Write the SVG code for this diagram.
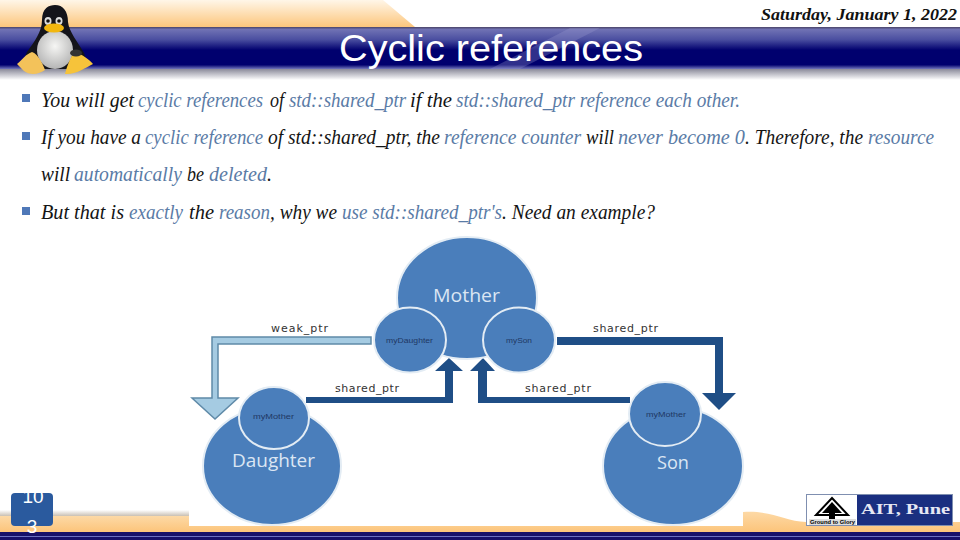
<svg xmlns="http://www.w3.org/2000/svg" width="960" height="540" viewBox="0 0 960 540">
<style>
.b{font-family:"Liberation Serif",serif;font-style:italic;font-size:20px;fill:#141414}
.h{fill:#5a7ba6}
.lab{font-family:"DejaVu Sans",sans-serif;font-size:11px;fill:#333}
.big{font-family:"Open Sans","Liberation Sans",sans-serif;font-size:18px;fill:#dbe6f3}
.sm{font-family:"Liberation Sans",sans-serif;font-size:8px;fill:#1f3864}
.c{fill:#4a7ebb;stroke:#e3ecf4;stroke-width:2}
.dk{fill:#1f4e86}
.bul{fill:#4f78b8}
</style>
<defs>
<linearGradient id="org" x1="0" y1="0" x2="0" y2="1"><stop offset="0" stop-color="#fff6e8"/><stop offset="1" stop-color="#fcc67c"/></linearGradient>
<linearGradient id="bar" x1="0" y1="0" x2="0" y2="1"><stop offset="0" stop-color="#4a4468"/><stop offset=".06" stop-color="#7072b4"/><stop offset=".3" stop-color="#4a4ea0"/><stop offset=".55" stop-color="#00006e"/><stop offset=".9" stop-color="#00006e"/><stop offset="1" stop-color="#7478bc"/></linearGradient>
<linearGradient id="shd" x1="0" y1="0" x2="0" y2="1"><stop offset="0" stop-color="#8a8a9a"/><stop offset="1" stop-color="#fff"/></linearGradient>
<linearGradient id="shd2" x1="0" y1="0" x2="0" y2="1"><stop offset="0" stop-color="#fff"/><stop offset="1" stop-color="#c9c0b4"/></linearGradient>
<linearGradient id="org2" x1="0" y1="0" x2="0" y2="1"><stop offset="0" stop-color="#fdd9a6"/><stop offset="1" stop-color="#fcc47a"/></linearGradient>
<radialGradient id="belly" cx=".5" cy=".4" r=".6"><stop offset="0" stop-color="#f6f6f4"/><stop offset="1" stop-color="#b5b5b5"/></radialGradient>
</defs>
<rect width="960" height="540" fill="#fff"/>
<g id="banner">
<polygon points="0,0 383,0 415,27 0,27" fill="url(#org)"/>
<rect x="0" y="27" width="960" height="42" fill="url(#bar)"/>
<polygon points="490,69 520,69 600,28 570,28" fill="#9a9ad0" opacity=".3"/>
<rect x="0" y="69" width="960" height="11" fill="url(#shd)"/>
</g>
<g id="footer">
<rect x="0" y="510" width="189" height="6" fill="url(#shd2)"/>
<rect x="0" y="516" width="744" height="16" fill="url(#org2)"/>
<path d="M743 512C770 510 785 521 806 522H960V532H743Z" fill="url(#org2)"/>
<rect x="0" y="532" width="960" height="8" fill="#16106a"/>
<rect x="0" y="536" width="960" height="1" fill="#6a70c0"/>
</g>
<g id="penguin">
<path d="M42 20C42 8 49 5 55 5C63 5 68 11 68 22C69 32 78 42 84 53C88 62 84 68 76 69H34C26 68 22 60 27 52C34 42 42 32 42 20Z" fill="#14141a"/>
<ellipse cx="55" cy="50" rx="18" ry="19" fill="url(#belly)"/>
<ellipse cx="48" cy="21" rx="3.500" ry="4" fill="#ddd"/><ellipse cx="59" cy="21" rx="3.500" ry="4" fill="#ddd"/>
<circle cx="48" cy="21" r="1.800" fill="#111"/><circle cx="59" cy="21" r="1.800" fill="#111"/>
<ellipse cx="54" cy="28" rx="10" ry="4.500" fill="#f2b70f"/>
<path d="M17 64C22 60 26 54 32 52C38 54 43 64 45 70C40 74 30 76 24 71Z" fill="#f3c25a"/>
<path d="M65 74C67 66 70 58 74 53C80 52 90 60 93 64C85 68 75 75 65 74Z" fill="#f6c33a"/>
<ellipse cx="76" cy="53" rx="6" ry="3.500" fill="#333"/>
</g>
<g id="title"><text x="339" y="61" font-family="Liberation Sans,sans-serif" font-size="36" fill="#fff" textLength="304" lengthAdjust="spacingAndGlyphs">Cyclic references</text></g>
<g id="date"><text x="761" y="20" font-family="Liberation Serif,serif" font-style="italic" font-weight="bold" font-size="17" fill="#111" textLength="196" lengthAdjust="spacingAndGlyphs">Saturday, January 1, 2022</text></g>
<g id="body">
<rect class="bul" x="22" y="94" width="8" height="8"/><rect class="bul" x="22" y="132" width="8" height="8"/><rect class="bul" x="22" y="207" width="8" height="8"/>
<text class="b" x="41" y="107" textLength="93" lengthAdjust="spacingAndGlyphs">You will get</text>
<text class="b h" x="138" y="107" textLength="125" lengthAdjust="spacingAndGlyphs">cyclic references</text>
<text class="b" x="270" y="107" textLength="14" lengthAdjust="spacingAndGlyphs">of</text>
<text class="b h" x="289" y="107" textLength="117" lengthAdjust="spacingAndGlyphs">std::shared_ptr</text>
<text class="b" x="410" y="107" textLength="42" lengthAdjust="spacingAndGlyphs">if the</text>
<text class="b h" x="456" y="107" textLength="284" lengthAdjust="spacingAndGlyphs">std::shared_ptr reference each other.</text>
<text class="b" x="41" y="144" textLength="100" lengthAdjust="spacingAndGlyphs">If you have a</text>
<text class="b h" x="145" y="144" textLength="118" lengthAdjust="spacingAndGlyphs">cyclic reference</text>
<text class="b" x="268" y="144" textLength="172" lengthAdjust="spacingAndGlyphs">of std::shared_ptr, the</text>
<text class="b h" x="444" y="144" textLength="137" lengthAdjust="spacingAndGlyphs">reference counter</text>
<text class="b" x="586" y="144" textLength="28" lengthAdjust="spacingAndGlyphs">will</text>
<text class="b h" x="618" y="144" textLength="127" lengthAdjust="spacingAndGlyphs">never become 0</text>
<text class="b" x="745" y="144" textLength="118" lengthAdjust="spacingAndGlyphs">. Therefore, the</text>
<text class="b h" x="868" y="144" textLength="66" lengthAdjust="spacingAndGlyphs">resource</text>
<text class="b" x="41" y="181" textLength="29" lengthAdjust="spacingAndGlyphs">will</text>
<text class="b h" x="74" y="181" textLength="108" lengthAdjust="spacingAndGlyphs">automatically</text>
<text class="b" x="187" y="181" textLength="17" lengthAdjust="spacingAndGlyphs">be</text>
<text class="b h" x="209" y="181" textLength="58" lengthAdjust="spacingAndGlyphs">deleted</text>
<text class="b" x="267" y="181">.</text>
<text class="b" x="41" y="219" textLength="83" lengthAdjust="spacingAndGlyphs">But that is</text>
<text class="b h" x="129" y="219" textLength="54" lengthAdjust="spacingAndGlyphs">exactly</text>
<text class="b" x="189" y="219" textLength="25" lengthAdjust="spacingAndGlyphs">the</text>
<text class="b h" x="219" y="219" textLength="51" lengthAdjust="spacingAndGlyphs">reason</text>
<text class="b" x="270" y="219" textLength="67" lengthAdjust="spacingAndGlyphs">, why we</text>
<text class="b h" x="342" y="219" textLength="160" lengthAdjust="spacingAndGlyphs">use std::shared_ptr's</text>
<text class="b" x="502" y="219" textLength="153" lengthAdjust="spacingAndGlyphs">. Need an example?</text>
</g>
<rect x="189" y="380" width="554" height="146" fill="#fff"/>
<g id="connectors">
<polygon points="371,337 212,337 212,398 192,398 215,419 238,398 218,398 218,344 371,344" fill="#a5cbe2" stroke="#5f8aa8" stroke-width="1.500"/>
<polygon class="dk" points="306,397 445,397 445,371 435,371 449,358 463,371 453,371 453,403 306,403"/>
<polygon class="dk" points="630,397 487,397 487,371 495,371 483,358 470,371 478,371 478,403 630,403"/>
<polygon class="dk" points="557,337 723,337 723,393 736,393 719,410 702,393 715,393 715,345 557,345"/>
<text class="lab" x="271" y="332" textLength="57">weak_ptr</text>
<text class="lab" x="335" y="392" textLength="64">shared_ptr</text>
<text class="lab" x="593" y="332" textLength="65">shared_ptr</text>
<text class="lab" x="525" y="392" textLength="66">shared_ptr</text>
</g>
<g id="mother"><ellipse class="c" cx="467" cy="298" rx="70" ry="61"/><text class="big" x="433" y="302" textLength="67" lengthAdjust="spacingAndGlyphs">Mother</text></g>
<g id="myDaughter"><ellipse class="c" cx="410" cy="340" rx="36" ry="32.500" stroke-width="2.500"/><text class="sm" x="386" y="343" textLength="47" lengthAdjust="spacingAndGlyphs">myDaughter</text></g>
<g id="mySon"><ellipse class="c" cx="519" cy="340" rx="36" ry="32.500" stroke-width="2.500"/><text class="sm" x="506" y="343" textLength="26" lengthAdjust="spacingAndGlyphs">mySon</text></g>
<g id="daughter"><ellipse class="c" cx="272" cy="466" rx="69" ry="59"/><text class="big" x="232" y="467" textLength="83" lengthAdjust="spacingAndGlyphs">Daughter</text></g>
<g id="myMotherL"><ellipse class="c" cx="274" cy="418" rx="35" ry="31" stroke-width="2.500"/><text class="sm" x="253" y="419" textLength="41" lengthAdjust="spacingAndGlyphs">myMother</text></g>
<g id="son"><ellipse class="c" cx="673" cy="466" rx="70" ry="59"/><text class="big" x="657" y="469" textLength="32" lengthAdjust="spacingAndGlyphs">Son</text></g>
<g id="myMotherR"><ellipse class="c" cx="665" cy="414" rx="36" ry="32" stroke-width="2.500"/><text class="sm" x="646" y="417" textLength="40" lengthAdjust="spacingAndGlyphs">myMother</text></g>
<g id="page">
<rect x="11" y="493" width="42" height="33" rx="4" fill="#2a5a9e"/>
<text x="33" y="503" text-anchor="middle" font-family="Liberation Sans,sans-serif" font-size="19" fill="#fff">10</text>
<text x="32" y="533" text-anchor="middle" font-family="Liberation Sans,sans-serif" font-size="19" fill="#fff">3</text>
</g>
<g id="logo">
<rect x="806.500" y="494.500" width="146" height="31" fill="#fff" stroke="#7f8fb0"/>
<rect x="857" y="495" width="95" height="30" fill="#1a2f80"/>
<polygon points="832,498 848,515 816,515" fill="#fff" stroke="#000" stroke-width="2"/>
<polygon points="832,502 842,513 822,513" fill="#000"/>
<rect x="829" y="511" width="6" height="8" fill="#000"/>
<rect x="809" y="519" width="47" height="6" fill="#ddd"/>
<text x="810" y="524" font-family="Liberation Sans,sans-serif" font-size="5" font-weight="bold" fill="#000" textLength="45" lengthAdjust="spacingAndGlyphs">Ground to Glory</text>
<text x="861" y="514" font-family="Liberation Serif,serif" font-weight="bold" font-size="14" fill="#e6e8f4" textLength="89" lengthAdjust="spacingAndGlyphs">AIT, Pune</text>
</g>
</svg>
